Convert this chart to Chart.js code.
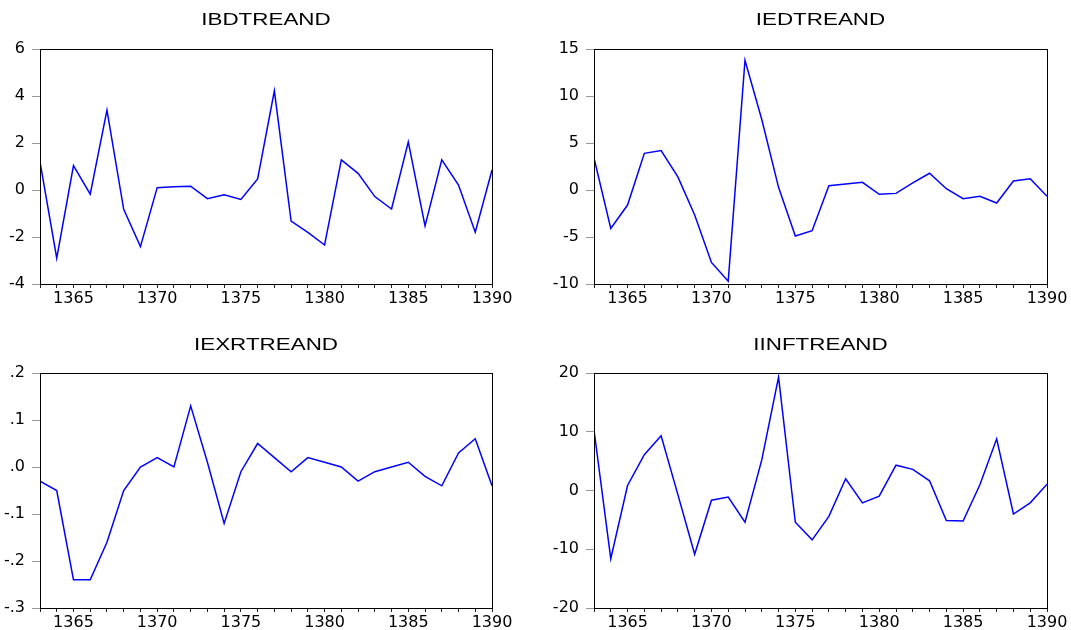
<!DOCTYPE html>
<html>
<head>
<meta charset="utf-8">
<title>Trend residuals</title>
<script src="https://cdn.jsdelivr.net/npm/chart.js@4.4.1/dist/chart.umd.min.js"></script>
<style>
  body { margin: 0; background: #fff; }
  .panel { position: absolute; }
</style>
</head>
<body>
<div class="panel" style="left:0;top:0"><canvas id="c1" width="535" height="315"></canvas></div>
<div class="panel" style="left:535px;top:0"><canvas id="c2" width="536" height="315"></canvas></div>
<div class="panel" style="left:0;top:315px"><canvas id="c3" width="535" height="315"></canvas></div>
<div class="panel" style="left:535px;top:315px"><canvas id="c4" width="536" height="315"></canvas></div>
<script>
// years on the x axis
const years = [1363, 1364, 1365, 1366, 1367, 1368, 1369, 1370, 1371, 1372,
               1373, 1374, 1375, 1376, 1377, 1378, 1379, 1380, 1381, 1382,
               1383, 1384, 1385, 1386, 1387, 1388, 1389, 1390];

// series
const ibdTreand = [1.2, -2.9, 1.04, -0.18, 3.4, -0.82, -2.41, 0.1, 0.14, 0.16,
                   -0.37, -0.2, -0.4, 0.47, 4.22, -1.32, -1.8, -2.34, 1.28, 0.71,
                   -0.28, -0.81, 2.05, -1.53, 1.28, 0.21, -1.8, 0.85];
const iedTreand = [3.4, -4.1, -1.6, 3.9, 4.2, 1.4, -2.66, -7.7, -9.7, 13.8,
                   7.5, 0.28, -4.9, -4.33, 0.46, 0.64, 0.82, -0.46, -0.36, 0.75,
                   1.78, 0.14, -0.92, -0.67, -1.38, 0.96, 1.2, -0.67];
const iexrTreand = [-0.03, -0.05, -0.24, -0.24, -0.16, -0.05, 0.0, 0.02, 0.0, 0.13,
                    0.01, -0.12, -0.01, 0.05, 0.02, -0.01, 0.02, 0.01, 0.0, -0.03,
                    -0.01, 0.0, 0.01, -0.02, -0.04, 0.03, 0.06, -0.04];
const iinfTreand = [10.3, -11.6, 0.85, 6.1, 9.3, -0.7, -10.85, -1.65, -1.1, -5.4,
                    5.2, 19.3, -5.4, -8.4, -4.4, 2.0, -2.1, -0.97, 4.3, 3.6,
                    1.65, -5.1, -5.2, 0.97, 8.8, -4.0, -2.1, 1.08];

// y tick ranges
const ibdTicks = { min: -4, max: 6, step: 2 };
const iedTicks = { min: -10, max: 15, step: 5 };
const iexrTicks = { min: -0.3, max: 0.2, step: 0.1 };
const iinfTicks = { min: -20, max: 20, step: 10 };

const tickFont = { family: 'DejaVu Sans', size: 16 };

// frame around the plot area + stretched title, EViews look
const framePlugin = {
    id: 'frame',
    afterDraw(chart, args, opts) {
        const { ctx, chartArea } = chart;
        ctx.save();
        ctx.strokeStyle = '#000';
        ctx.lineWidth = 1;
        ctx.strokeRect(Math.round(chartArea.left) + 0.5, Math.round(chartArea.top) + 0.5,
                       Math.round(chartArea.right - chartArea.left), Math.round(chartArea.bottom - chartArea.top));
        // title
        const cx = (chartArea.left + chartArea.right) / 2;
        ctx.translate(cx, opts.titleY);
        ctx.scale(1.4, 1);
        ctx.font = '16px "Liberation Sans"';
        ctx.fillStyle = '#000';
        ctx.textAlign = 'center';
        ctx.textBaseline = 'middle';
        ctx.fillText(opts.text, 0, 0);
        ctx.restore();
    }
};

function yLabel(v) {
    return v;
}
function yLabelDec(v) {
    return v.toFixed(1).replace('0.', '.');
}

function makePanel(id, title, values, yt, fmt, box) {
    const points = years.map((yr, i) => ({ x: yr, y: values[i] }));
    return new Chart(document.getElementById(id), {
        type: 'line',
        data: {
            datasets: [{
                data: points,
                borderColor: '#0000ff',
                borderWidth: 1.5,
                pointRadius: 0,
                tension: 0,
                fill: false
            }]
        },
        options: {
            responsive: false,
            animation: false,
            layout: { padding: { left: 0, right: box.padRight, top: box.padTop, bottom: 0 } },
            plugins: {
                legend: { display: false },
                tooltip: { enabled: false },
                frame: { text: title, titleY: box.titleY }
            },
            scales: {
                x: {
                    type: 'linear',
                    min: years[0],
                    max: years[years.length - 1],
                    afterFit(scale) { scale.height = box.xAxisH; },
                    ticks: {
                        stepSize: 1,
                        autoSkip: false,
                        maxRotation: 0,
                        padding: 1,
                        color: '#000',
                        font: tickFont,
                        callback: v => (v % 5 === 0 ? String(v) : '')
                    },
                    grid: { drawOnChartArea: false, drawTicks: true, tickLength: 4, color: '#222' },
                    border: { display: true, color: '#000' }
                },
                y: {
                    min: yt.min,
                    max: yt.max,
                    afterFit(scale) { scale.width = box.yAxisW; },
                    ticks: {
                        stepSize: yt.step,
                        padding: 7,
                        color: '#000',
                        font: tickFont,
                        callback: fmt
                    },
                    grid: { drawOnChartArea: false, drawTicks: true, tickLength: 8, color: '#999' },
                    border: { display: true, color: '#000' }
                }
            }
        },
        plugins: [framePlugin]
    });
}

makePanel('c1', 'IBDTREAND', ibdTreand, ibdTicks, yLabel,
          { yAxisW: 40, padRight: 43, padTop: 49, xAxisH: 31, titleY: 21 });
makePanel('c2', 'IEDTREAND', iedTreand, iedTicks, yLabel,
          { yAxisW: 59, padRight: 24, padTop: 49, xAxisH: 31, titleY: 21 });
makePanel('c3', 'IEXRTREAND', iexrTreand, iexrTicks, yLabelDec,
          { yAxisW: 40, padRight: 43, padTop: 58, xAxisH: 22, titleY: 31 });
makePanel('c4', 'IINFTREAND', iinfTreand, iinfTicks, yLabel,
          { yAxisW: 59, padRight: 24, padTop: 58, xAxisH: 22, titleY: 31 });
</script>
</body>
</html>
